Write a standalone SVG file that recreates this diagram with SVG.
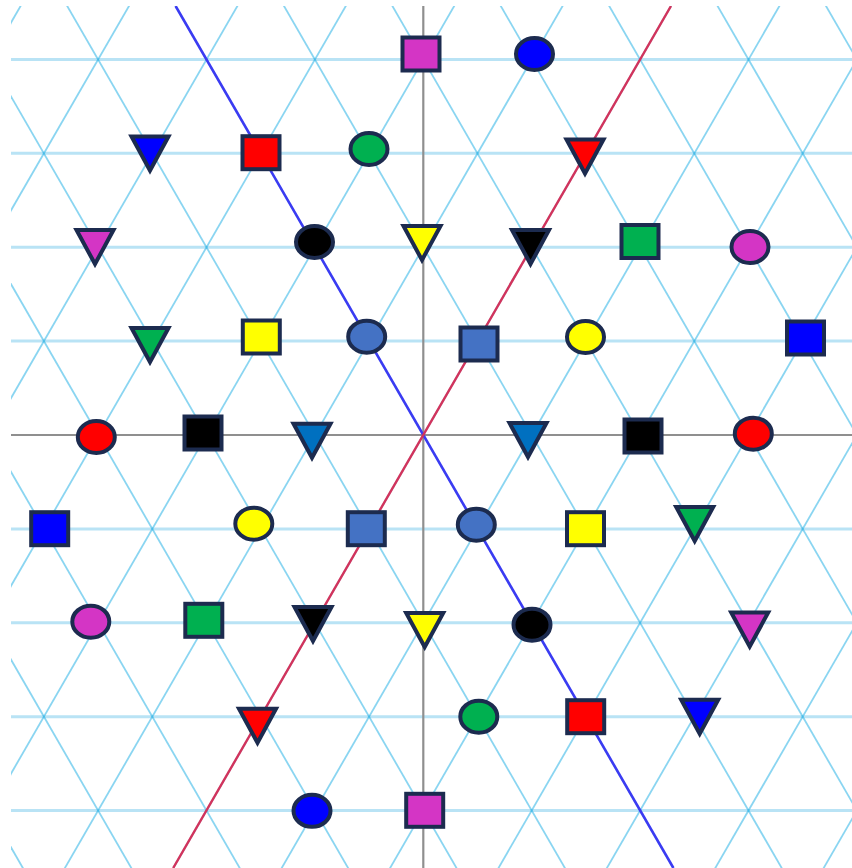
<svg xmlns="http://www.w3.org/2000/svg" width="852" height="868" viewBox="0 0 852 868">
<style>
.h{stroke:#29abe2;stroke-opacity:0.33;stroke-width:3}
.d{stroke:#29b3e6;stroke-opacity:0.55;stroke-width:1.8}
.ax{stroke:#8f8f8f;stroke-width:2.2}
.s{stroke:#1c2b4f;stroke-width:4;stroke-linejoin:miter}
.mg{fill:#d435c5}.bl{fill:#0000ff}.rd{fill:#ff0000}.gr{fill:#00b050}.ye{fill:#ffff00}.bk{fill:#000000}.st{fill:#4472c4}.tb{fill:#0070c0}
</style>
<defs>
<clipPath id="clip"><rect x="11" y="6" width="841" height="862"/></clipPath>
<rect id="sq" x="-18.5" y="-16.5" width="37" height="33"/>
<ellipse id="el" cx="0" cy="0" rx="18.5" ry="16"/>
<polygon id="tr" points="-18.5,-18 18.5,-18 0,16"/>
</defs>
<rect width="852" height="868" fill="#ffffff"/>
<g id="grid" clip-path="url(#clip)">
<g id="horizontal">
<line class="h" x1="11" y1="59.4" x2="852" y2="59.4"/>
<line class="h" x1="11" y1="153.3" x2="852" y2="153.3"/>
<line class="h" x1="11" y1="247.2" x2="852" y2="247.2"/>
<line class="h" x1="11" y1="341.1" x2="852" y2="341.1"/>
<line class="h" x1="11" y1="528.9" x2="852" y2="528.9"/>
<line class="h" x1="11" y1="622.8" x2="852" y2="622.8"/>
<line class="h" x1="11" y1="716.7" x2="852" y2="716.7"/>
<line class="h" x1="11" y1="810.6" x2="852" y2="810.6"/>
</g>
<g id="diag-a">
<line class="d" x1="-1089.0" y1="-870" x2="-83.2" y2="872"/>
<line class="d" x1="-980.6" y1="-870" x2="25.2" y2="872"/>
<line class="d" x1="-872.2" y1="-870" x2="133.6" y2="872"/>
<line class="d" x1="-763.8" y1="-870" x2="242.0" y2="872"/>
<line class="d" x1="-655.4" y1="-870" x2="350.4" y2="872"/>
<line class="d" x1="-547.0" y1="-870" x2="458.8" y2="872"/>
<line class="d" x1="-438.6" y1="-870" x2="567.2" y2="872"/>
<line class="d" x1="-330.2" y1="-870" x2="675.6" y2="872"/>
<line class="d" x1="-221.8" y1="-870" x2="784.0" y2="872"/>
<line class="d" x1="-113.4" y1="-870" x2="892.4" y2="872"/>
<line class="d" x1="-5.0" y1="-870" x2="1000.8" y2="872"/>
<line class="d" x1="103.4" y1="-870" x2="1109.2" y2="872"/>
<line class="d" x1="211.8" y1="-870" x2="1217.6" y2="872"/>
<line class="d" x1="320.2" y1="-870" x2="1326.0" y2="872"/>
<line class="d" x1="428.6" y1="-870" x2="1434.4" y2="872"/>
</g>
<g id="diag-b">
<line class="d" x1="-587.8" y1="872" x2="418.0" y2="-870"/>
<line class="d" x1="-479.4" y1="872" x2="526.4" y2="-870"/>
<line class="d" x1="-371.0" y1="872" x2="634.8" y2="-870"/>
<line class="d" x1="-262.6" y1="872" x2="743.2" y2="-870"/>
<line class="d" x1="-154.2" y1="872" x2="851.6" y2="-870"/>
<line class="d" x1="-45.8" y1="872" x2="960.0" y2="-870"/>
<line class="d" x1="62.6" y1="872" x2="1068.4" y2="-870"/>
<line class="d" x1="171.0" y1="872" x2="1176.8" y2="-870"/>
<line class="d" x1="279.4" y1="872" x2="1285.2" y2="-870"/>
<line class="d" x1="387.8" y1="872" x2="1393.6" y2="-870"/>
<line class="d" x1="496.2" y1="872" x2="1502.0" y2="-870"/>
<line class="d" x1="604.6" y1="872" x2="1610.4" y2="-870"/>
<line class="d" x1="713.0" y1="872" x2="1718.8" y2="-870"/>
<line class="d" x1="821.4" y1="872" x2="1827.2" y2="-870"/>
<line class="d" x1="929.8" y1="872" x2="1935.6" y2="-870"/>
</g>
</g>
<g id="connectors" clip-path="url(#clip)">
<line class="ax" x1="11" y1="435" x2="852" y2="435"/>
<line class="ax" x1="423.3" y1="6" x2="423.3" y2="868"/>
<line x1="175.6" y1="6" x2="673.4" y2="868" stroke="#3b3bf2" stroke-width="2.6"/>
<line x1="671" y1="6" x2="173.2" y2="868" stroke="#d2335c" stroke-width="2.4"/>
</g>
<g id="nodes">
<g id="n1"><use href="#sq" class="s mg" x="421" y="54"/></g>
<g id="n2"><use href="#el" class="s bl" x="534.5" y="54"/></g>
<g id="n3"><use href="#tr" class="s bl" x="150" y="154.5"/></g>
<g id="n4"><use href="#sq" class="s rd" x="261" y="152.7"/></g>
<g id="n5"><use href="#el" class="s gr" x="369" y="149"/></g>
<g id="n6"><use href="#tr" class="s rd" x="585" y="157.5"/></g>
<g id="n7"><use href="#tr" class="s mg" x="95" y="248"/></g>
<g id="n8"><use href="#el" class="s bk" x="314.5" y="242"/></g>
<g id="n9"><use href="#tr" class="s ye" x="422" y="244"/></g>
<g id="n10"><use href="#tr" class="s bk" x="530.5" y="248"/></g>
<g id="n11"><use href="#sq" class="s gr" x="640" y="241.5"/></g>
<g id="n12"><use href="#el" class="s mg" x="750" y="247"/></g>
<g id="n13"><use href="#tr" class="s gr" x="150" y="346"/></g>
<g id="n14"><use href="#sq" class="s ye" x="261.3" y="337"/></g>
<g id="n15"><use href="#el" class="s st" x="366.7" y="336.7"/></g>
<g id="n16"><use href="#sq" class="s st" x="479" y="344"/></g>
<g id="n17"><use href="#el" class="s ye" x="585.5" y="337"/></g>
<g id="n18"><use href="#sq" class="s bl" x="805.5" y="338"/></g>
<g id="n19"><use href="#el" class="s rd" x="96.3" y="437"/></g>
<g id="n20"><use href="#sq" class="s bk" x="203" y="433"/></g>
<g id="n21"><use href="#tr" class="s tb" x="312" y="441.7"/></g>
<g id="n22"><use href="#tr" class="s tb" x="528" y="441"/></g>
<g id="n23"><use href="#sq" class="s bk" x="643" y="436"/></g>
<g id="n24"><use href="#el" class="s rd" x="753.3" y="433.7"/></g>
<g id="n25"><use href="#sq" class="s bl" x="49.7" y="528.7"/></g>
<g id="n26"><use href="#el" class="s ye" x="253.8" y="523.7"/></g>
<g id="n27"><use href="#sq" class="s st" x="366.3" y="528.7"/></g>
<g id="n28"><use href="#el" class="s st" x="476.3" y="524.7"/></g>
<g id="n29"><use href="#sq" class="s ye" x="585.5" y="528.7"/></g>
<g id="n30"><use href="#tr" class="s gr" x="694.7" y="525"/></g>
<g id="n31"><use href="#el" class="s mg" x="90.8" y="621.7"/></g>
<g id="n32"><use href="#sq" class="s gr" x="203.8" y="620.3"/></g>
<g id="n33"><use href="#tr" class="s bk" x="313" y="625"/></g>
<g id="n34"><use href="#tr" class="s ye" x="424.7" y="631"/></g>
<g id="n35"><use href="#el" class="s bk" x="532" y="624.7"/></g>
<g id="n36"><use href="#tr" class="s mg" x="749.7" y="630.5"/></g>
<g id="n37"><use href="#tr" class="s rd" x="257.5" y="726.7"/></g>
<g id="n38"><use href="#el" class="s gr" x="478.8" y="716.7"/></g>
<g id="n39"><use href="#sq" class="s rd" x="585.7" y="716.7"/></g>
<g id="n40"><use href="#tr" class="s bl" x="699.7" y="717.8"/></g>
<g id="n41"><use href="#el" class="s bl" x="312" y="810.8"/></g>
<g id="n42"><use href="#sq" class="s mg" x="424.7" y="810.3"/></g>
</g>
</svg>
